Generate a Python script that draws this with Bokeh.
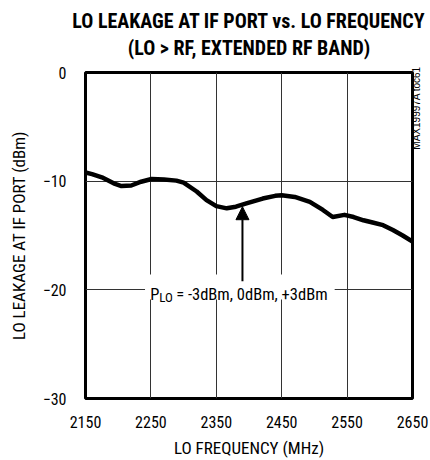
import math
from bokeh.plotting import figure
from bokeh.models import (Title, Label, Arrow, NormalHead, BoxAnnotation, FixedTicker, Range1d,
                          LinearAxis)
from bokeh.embed import file_html
from bokeh.resources import INLINE

# ---- data ----
freq_mhz = [2150, 2160, 2175, 2193, 2205, 2220, 2235, 2251, 2270, 2289, 2300, 2320, 2335, 2350,
            2366, 2380, 2396, 2421, 2440, 2450, 2470, 2493, 2513, 2528, 2546, 2560, 2575, 2589,
            2605, 2620, 2635, 2650]
leakage_dbm = [-9.2, -9.35, -9.65, -10.2, -10.45, -10.4, -10.05, -9.8, -9.85, -9.95, -10.13, -10.95,
               -11.75, -12.3, -12.5, -12.35, -12.05, -11.6, -11.35, -11.3, -11.45, -11.9, -12.65,
               -13.3, -13.1, -13.3, -13.6, -13.8, -14.05, -14.5, -15.0, -15.55]
x_ticks = [2150, 2250, 2350, 2450, 2550, 2650]
y_ticks = [0, -10, -20, -30]
title_lines = ["LO LEAKAGE AT IF PORT vs. LO FREQUENCY", "(LO > RF, EXTENDED RF BAND)"]
x_title = "LO FREQUENCY (MHz)"
y_title = "LO LEAKAGE AT IF PORT (dBm)"
note_main = "P"
note_sub = "LO"
note_rest = "= -3dBm, 0dBm, +3dBm"
note_x = 2249
note_y = -20.45
arrow_x = 2390
arrow_y0 = -19.2
arrow_y1 = -12.35
mask_box = (2241, 2531, -20.9, -18.6)
chart_id = "MAX19997A toc61"
chart_id_pos = -7.1

FONT = "'Roboto Condensed', 'DejaVu Sans Condensed', Roboto"

p = figure(width=430, height=460, output_backend="svg", toolbar_location=None,
           x_range=Range1d(2150, 2650), y_range=Range1d(-30, 0),
           min_border_left=85, min_border_right=17, min_border_top=72, min_border_bottom=60)

p.background_fill_color = "white"
p.border_fill_color = "white"
p.outline_line_color = "black"
p.outline_line_width = 3
p.outline_line_alpha = 1

p.xaxis.ticker = FixedTicker(ticks=x_ticks)
p.yaxis.ticker = FixedTicker(ticks=y_ticks)
for ax in (p.xaxis, p.yaxis):
    ax.axis_line_color = None
    ax.major_tick_line_color = None
    ax.minor_tick_line_color = None
    ax.major_label_text_font = FONT
    ax.major_label_text_font_size = "16px"
    ax.major_label_text_color = "black"
    ax.axis_label_text_font = FONT
    ax.axis_label_text_font_size = "17px"
    ax.axis_label_text_font_style = "normal"
    ax.axis_label_text_color = "black"
p.xaxis.axis_label = x_title
p.yaxis.axis_label = y_title
p.xaxis.major_label_standoff = 11
p.yaxis.major_label_standoff = 13
p.xaxis.axis_label_standoff = 7
p.yaxis.axis_label_standoff = 11

# right-side axis: one rotated label carrying the figure id
rax = LinearAxis(ticker=FixedTicker(ticks=[chart_id_pos]), major_label_overrides={chart_id_pos: chart_id},
                 major_label_orientation=math.pi / 2, axis_line_color=None,
                 major_tick_line_color=None, minor_tick_line_color=None,
                 major_tick_out=0, major_tick_in=0, minor_tick_out=0, minor_tick_in=0,
                 major_label_standoff=4, major_label_text_font="Liberation Sans",
                 major_label_text_font_size="10px", major_label_text_color="black")
p.add_layout(rax, "right")

p.xgrid.ticker = FixedTicker(ticks=x_ticks)
p.ygrid.ticker = FixedTicker(ticks=y_ticks)
p.grid.grid_line_color = "#333333"
p.grid.grid_line_width = 1
p.grid.grid_line_alpha = 1

p.line(freq_mhz, leakage_dbm, line_color="black", line_width=4.5, line_join="round", line_cap="round")

p.add_layout(BoxAnnotation(left=mask_box[0], right=mask_box[1], bottom=mask_box[2], top=mask_box[3],
                           fill_color="white", fill_alpha=1, line_color=None))

p.add_layout(Arrow(end=NormalHead(size=13, fill_color="black", line_color="black", line_width=1),
                   x_start=arrow_x, y_start=arrow_y0, x_end=arrow_x, y_end=arrow_y1,
                   line_color="black", line_width=2))

p.add_layout(Label(x=note_x, y=note_y, text=note_main, text_font=FONT, text_font_size="16.5px",
                   text_baseline="alphabetic", text_align="left", text_color="black"))
p.add_layout(Label(x=note_x, y=note_y, x_offset=9, y_offset=-3, text=note_sub, text_font=FONT,
                   text_font_size="13px", text_baseline="alphabetic", text_align="left", text_color="black"))
p.add_layout(Label(x=note_x, y=note_y, x_offset=26, text=note_rest, text_font=FONT, text_font_size="16.5px",
                   text_baseline="alphabetic", text_align="left", text_color="black"))

p.add_layout(Title(text=title_lines[1], align="center", text_font=FONT, text_font_size="20px",
                   text_font_style="bold", standoff=26, text_color="black"), "above")
p.add_layout(Title(text=title_lines[0], align="center", text_font=FONT, text_font_size="20px",
                   text_font_style="bold", standoff=-24, text_color="black"), "above")

open("out.html", "w").write(file_html(p, INLINE))
